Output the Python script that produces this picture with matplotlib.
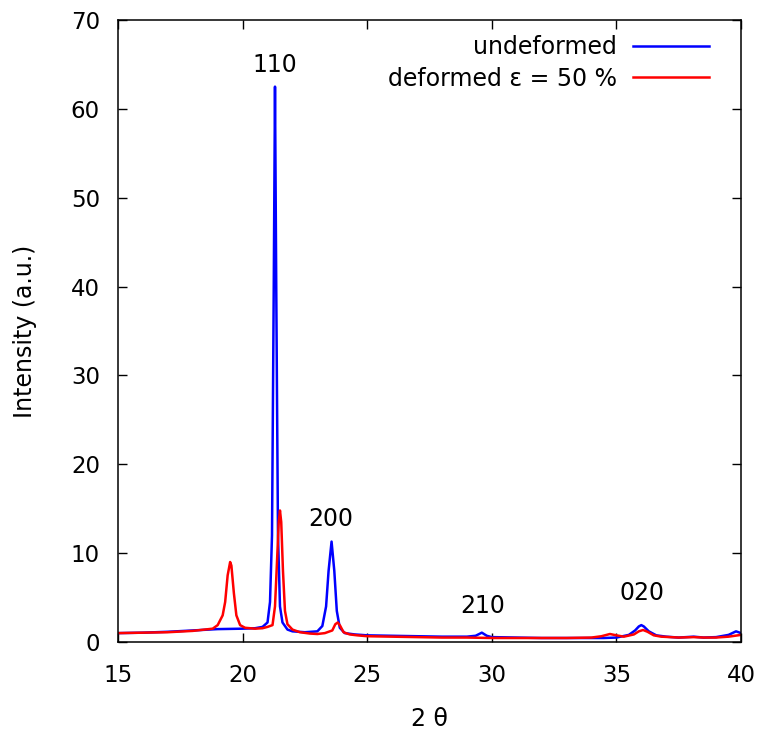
import numpy as np
import matplotlib.pyplot as plt

# Undeformed sample (blue)
blue_x = [15, 16, 17, 18, 19, 20, 20.5, 20.8, 21.0, 21.1, 21.18, 21.25, 21.3, 21.35, 21.42, 21.5, 21.6,
          21.8, 22.0, 22.5, 23.0, 23.2, 23.35, 23.45, 23.57, 23.68, 23.78, 23.9, 24.1, 24.5, 25, 26, 27,
          28, 29, 29.35, 29.6, 29.8, 30, 31, 32, 33, 34, 34.5, 35, 35.5, 35.75, 35.9, 36.0, 36.1, 36.3,
          36.6, 37.0, 37.5, 38.1, 38.5, 39, 39.5, 39.8, 40]
blue_y = [1.0, 1.05, 1.15, 1.3, 1.45, 1.5, 1.55, 1.7, 2.2, 4.5, 12, 40, 62.5, 40, 12, 4, 2.2,
          1.4, 1.2, 1.1, 1.2, 1.8, 4, 8, 11.3, 8, 3.5, 1.6, 1.0, 0.85, 0.75, 0.7, 0.65,
          0.6, 0.6, 0.7, 1.05, 0.7, 0.55, 0.5, 0.45, 0.45, 0.45, 0.45, 0.5, 0.8, 1.3, 1.75, 1.9, 1.75, 1.2,
          0.75, 0.6, 0.5, 0.6, 0.5, 0.55, 0.8, 1.2, 1.0]

# Deformed sample (red)
red_x = [15, 16, 17, 18, 18.8, 19.0, 19.2, 19.3, 19.4, 19.5, 19.55, 19.65, 19.75, 19.9, 20.1, 20.5,
         20.8, 21.0, 21.2, 21.3, 21.38, 21.45, 21.5, 21.55, 21.62, 21.7, 21.8, 22.0, 22.3, 22.7, 23.0,
         23.3, 23.6, 23.72, 23.82, 23.92, 24.05, 24.3, 24.6, 25, 26, 27, 28, 29, 30, 31, 32, 33, 34,
         34.4, 34.74, 35.0, 35.3, 35.7, 35.9, 36.07, 36.25, 36.5, 36.8, 37.5, 38.1, 38.5, 39, 39.5, 40]
red_y = [1.0, 1.05, 1.1, 1.25, 1.5, 1.9, 3.0, 4.5, 7.5, 9.0, 8.6, 5.5, 3.0, 1.9, 1.6, 1.5,
         1.55, 1.7, 1.9, 4, 9, 13.5, 14.8, 13.5, 8, 3.5, 2.0, 1.4, 1.1, 0.95, 0.9,
         1.0, 1.3, 2.0, 2.2, 1.8, 1.1, 0.85, 0.75, 0.65, 0.6, 0.55, 0.5, 0.5, 0.45, 0.45, 0.45, 0.45, 0.5,
         0.65, 0.9, 0.75, 0.6, 0.85, 1.2, 1.35, 1.15, 0.75, 0.6, 0.5, 0.55, 0.5, 0.5, 0.6, 0.8]

# Reflection labels
hkl_labels = ["110", "200", "210", "020"]
hkl_x = [21.3, 23.55, 29.65, 36.03]
hkl_y = [64.9, 13.8, 4.05, 5.5]

fs = 17

fig = plt.figure(figsize=(7.63, 7.33), dpi=100)
ax = fig.add_axes([118/763, 91/733, 623/763, 622/733])

ax.plot(blue_x, blue_y, color="blue", lw=1.8, label="undeformed")
ax.plot(red_x, red_y, color="red", lw=1.8, label="deformed ε = 50 %")

for lab, xx, yy in zip(hkl_labels, hkl_x, hkl_y):
	ax.text(xx, yy, lab, ha="center", va="center", fontsize=fs)

ax.set_xlim(15, 40)
ax.set_ylim(0, 70)
ax.set_xticks([15, 20, 25, 30, 35, 40])
ax.set_yticks(np.arange(0, 71, 10))
ax.tick_params(direction="in", length=6.5, width=1, top=True, right=True, labelsize=16.5)
ax.tick_params(axis="x", pad=16)
ax.tick_params(axis="y", pad=13)
for s in ax.spines.values():
	s.set_linewidth(1.1)

ax.set_xlabel("2 θ", fontsize=fs, labelpad=14)
ax.set_ylabel("Intensity (a.u.)", fontsize=fs, labelpad=24)

ax.legend(loc="upper right", frameon=False, markerfirst=False, fontsize=fs,
          handlelength=3.2, handletextpad=0.7, bbox_to_anchor=(0.9486, 0.976),
          labelspacing=0.33, borderaxespad=0, borderpad=0)

fig.savefig("out.png", dpi=100)
